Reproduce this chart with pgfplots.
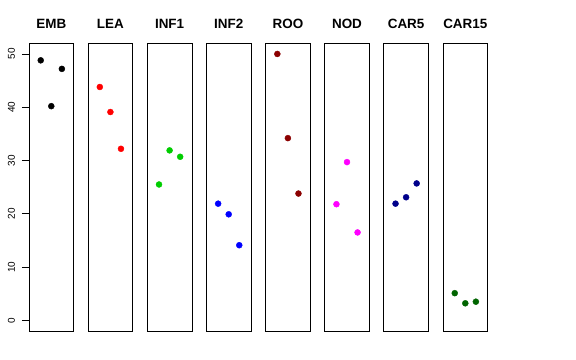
\documentclass[border=0pt]{standalone}
\usepackage{pgfplots}
\pgfplotsset{compat=1.18}
\usepackage{fontspec}
\setmainfont{Liberation Sans}
\definecolor{cEMB}{HTML}{000000}
\definecolor{cLEA}{HTML}{FF0000}
\definecolor{cINF1}{HTML}{00CD00}
\definecolor{cINF2}{HTML}{0000FF}
\definecolor{cROO}{HTML}{8B0000}
\definecolor{cNOD}{HTML}{FF00FF}
\definecolor{cCAR5}{HTML}{00008B}
\definecolor{cCAR15}{HTML}{006400}
\newcommand{\tl}[1]{\fontsize{10}{12}\selectfont #1}
\pgfplotsset{
  panel/.style={
    scale only axis, width=44.6bp, height=287.7bp,
    anchor=south west,
    xmin=-0.11, xmax=4.11, ymin=-2, ymax=52,
    xtick=\empty, ytick=\empty,
    axis line style={line width=0.75bp, black},
    title style={at={(0.5,1)}, anchor=base, yshift=9.3bp, font=\fontsize{13.5}{14}\selectfont\bfseries, inner sep=0pt},
    clip=false,
  },
  pts/.style={only marks, mark=*, mark size=3bp, mark options={draw=#1, fill=#1}},
}
\begin{document}
\begin{tikzpicture}
\path[use as bounding box] (0,0) rectangle (576bp,360bp);
\begin{axis}[panel, at={(29bp,29bp)}, title={EMB},
  ytick={0,10,20,30,40,50},
  yticklabels={\tl{0},\tl{10},\tl{20},\tl{30},\tl{40},\tl{50}},
  ytick pos=left, tick align=outside,
  major tick length=7bp, tick style={line width=0.75bp, black},
  yticklabel style={rotate=90, anchor=base, inner sep=0pt, yshift=7bp}]
\addplot[pts=cEMB] coordinates {(1,48.8) (2,40.2) (3,47.2)};
\end{axis}
\begin{axis}[panel, at={(88.1bp,29bp)}, title={LEA}]
\addplot[pts=cLEA] coordinates {(1,43.8) (2,39.1) (3,32.2)};
\end{axis}
\begin{axis}[panel, at={(147.3bp,29bp)}, title={INF1}]
\addplot[pts=cINF1] coordinates {(1,25.5) (2,31.9) (3,30.7)};
\end{axis}
\begin{axis}[panel, at={(206.4bp,29bp)}, title={INF2}]
\addplot[pts=cINF2] coordinates {(1,21.9) (2,19.9) (3,14.1)};
\end{axis}
\begin{axis}[panel, at={(265.6bp,29bp)}, title={ROO}]
\addplot[pts=cROO] coordinates {(1,50.0) (2,34.2) (3,23.8)};
\end{axis}
\begin{axis}[panel, at={(324.7bp,29bp)}, title={NOD}]
\addplot[pts=cNOD] coordinates {(1,21.8) (2,29.7) (3,16.5)};
\end{axis}
\begin{axis}[panel, at={(383.8bp,29bp)}, title={CAR5}]
\addplot[pts=cCAR5] coordinates {(1,21.9) (2,23.1) (3,25.7)};
\end{axis}
\begin{axis}[panel, at={(443bp,29bp)}, title={CAR15}]
\addplot[pts=cCAR15] coordinates {(1,5.1) (2,3.2) (3,3.5)};
\end{axis}
\end{tikzpicture}
\end{document}
